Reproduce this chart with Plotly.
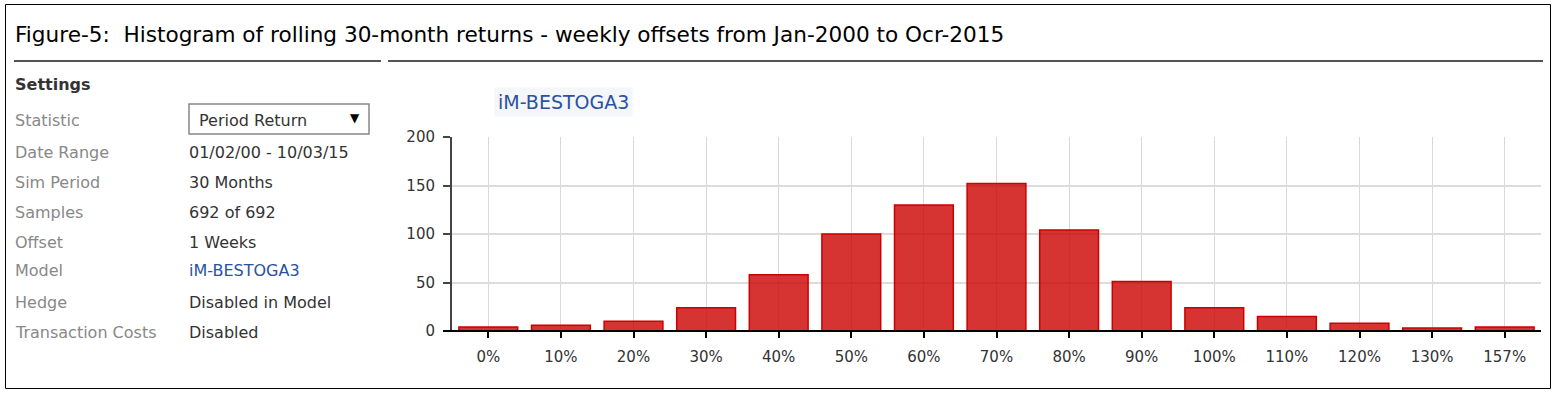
import plotly.graph_objects as go

# ---------------- data ----------------
categories = ["0%", "10%", "20%", "30%", "40%", "50%", "60%", "70%",
              "80%", "90%", "100%", "110%", "120%", "130%", "157%"]
counts = [4, 6, 10, 24, 58, 100, 130, 152, 104, 51, 24, 15, 8, 3, 4]
y_ticks = [0, 50, 100, 150, 200]

title_text = "Figure-5:  Histogram of rolling 30-month returns - weekly offsets from Jan-2000 to Ocr-2015"
series_name = "iM-BESTOGA3"
settings_labels = ["Statistic", "Date Range", "Sim Period", "Samples", "Offset",
                   "Model", "Hedge", "Transaction Costs"]
settings_values = ["Period Return", "01/02/00 - 10/03/15", "30 Months", "692 of 692",
                   "1 Weeks", "iM-BESTOGA3", "Disabled in Model", "Disabled"]

# ---------------- layout helpers ----------------
W, H = 1556, 395
X0, X1 = 452, 1541      # plot area left/right (px)
Y0, Y1 = 331, 137       # plot area bottom/top (px)


def fx(p):
    return (p - X0) / (X1 - X0)


def fy(p):
    return (Y0 - p) / (Y0 - Y1)


FONT = "DejaVu Sans"

fig = go.Figure()
fig.add_trace(go.Bar(
    x=categories, y=counts, name=series_name,
    marker=dict(color="rgba(204,0,0,0.8)", line=dict(color="#cc0000", width=1.5)),
    showlegend=False,
))

shapes = []
# outer frame
shapes.append(dict(type="rect", xref="paper", yref="paper",
                   x0=fx(5.5), x1=fx(1550.5), y0=fy(388.5), y1=fy(4.5),
                   line=dict(color="#000", width=1), fillcolor="rgba(0,0,0,0)", layer="below"))
# title underlines
shapes.append(dict(type="line", xref="paper", yref="paper",
                   x0=fx(14), x1=fx(381), y0=fy(61), y1=fy(61),
                   line=dict(color="#555", width=2)))
shapes.append(dict(type="line", xref="paper", yref="paper",
                   x0=fx(388), x1=fx(1543), y0=fy(61), y1=fy(61),
                   line=dict(color="#555", width=2)))
# dropdown box
shapes.append(dict(type="rect", xref="paper", yref="paper",
                   x0=fx(189), x1=fx(369), y0=fy(134), y1=fy(104),
                   line=dict(color="#888", width=1.5), fillcolor="#fff"))
# x axis baseline extending left of the y axis
shapes.append(dict(type="line", xref="paper", yref="paper",
                   x0=fx(443), x1=1, y0=0, y1=0,
                   line=dict(color="#000", width=2)))

annotations = []
annotations.append(dict(text=title_text, xref="paper", yref="paper",
                        x=fx(13), y=fy(34), xanchor="left", yanchor="middle",
                        showarrow=False, font=dict(family=FONT, size=21.6, color="#000")))
annotations.append(dict(text="<b>Settings</b>", xref="paper", yref="paper",
                        x=fx(12.5), y=fy(84), xanchor="left", yanchor="middle",
                        showarrow=False, font=dict(family=FONT, size=16, color="#333")))
label_y = [120, 152, 182, 212, 242, 270, 302, 332]
for lab, val, yy in zip(settings_labels, settings_values, label_y):
    annotations.append(dict(text=lab, xref="paper", yref="paper",
                            x=fx(12.5), y=fy(yy), xanchor="left", yanchor="middle",
                            showarrow=False, font=dict(family=FONT, size=16, color="#888")))
    vx = 196.5 if lab == "Statistic" else 187
    col = "#2a52a0" if lab == "Model" else "#333"
    annotations.append(dict(text=val, xref="paper", yref="paper",
                            x=fx(vx), y=fy(yy), xanchor="left", yanchor="middle",
                            showarrow=False, font=dict(family=FONT, size=16, color=col)))
annotations.append(dict(text="▼", xref="paper", yref="paper",
                        x=fx(355), y=fy(118), xanchor="center", yanchor="middle",
                        showarrow=False, font=dict(family=FONT, size=12, color="#000")))
# series label box
annotations.append(dict(text=series_name, xref="paper", yref="paper",
                        x=fx(494), y=fy(102), xanchor="left", yanchor="middle",
                        showarrow=False, bgcolor="#f4f6f9", borderpad=3,
                        font=dict(family=FONT, size=19, color="#2a52a0")))

fig.update_layout(
    width=W, height=H,
    margin=dict(l=X0, r=W - X1, t=Y1, b=H - Y0, pad=0),
    paper_bgcolor="#fff", plot_bgcolor="#fff",
    bargap=0.19,
    shapes=shapes, annotations=annotations,
    font=dict(family=FONT, size=15, color="#333"),
    xaxis=dict(type="category", range=[-0.5, len(categories) - 0.5],
               showgrid=True, gridcolor="rgba(0,0,0,0.15)", gridwidth=1,
               ticks="outside", ticklen=6, tickcolor="#000", tickwidth=1.5,
               ticklabelstandoff=6,
               showline=False, zeroline=False, fixedrange=True,
               tickfont=dict(family=FONT, size=15, color="#333")),
    yaxis=dict(range=[0, 200], tickvals=y_ticks, showgrid=True,
               gridcolor="#dcdcdc", gridwidth=1.5,
               ticks="outside", ticklen=7, tickcolor="#444", tickwidth=1.5,
               ticklabelstandoff=5,
               showline=True, linecolor="#444", linewidth=2,
               zeroline=False, fixedrange=True,
               tickfont=dict(family=FONT, size=15, color="#333")),
)

fig.write_html("out.html", config={"displayModeBar": False},
               post_script="document.body.style.margin='0';")
